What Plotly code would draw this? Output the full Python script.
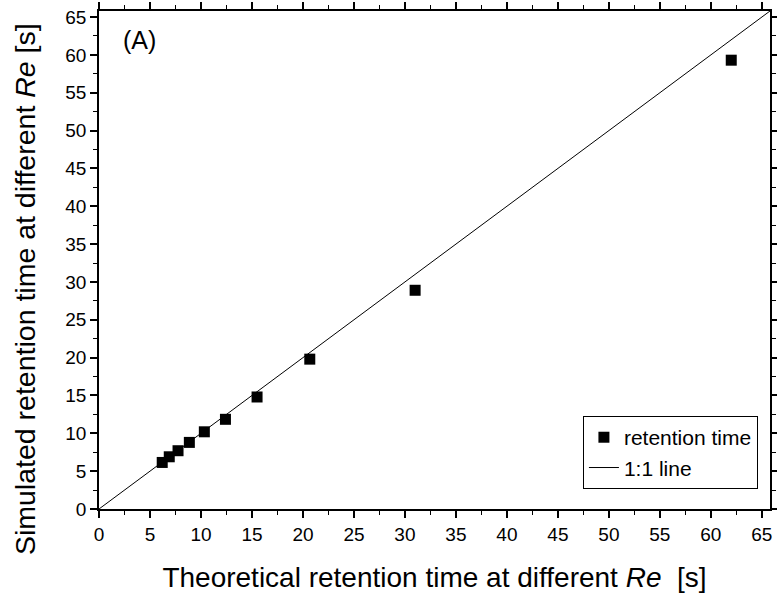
import plotly.graph_objects as go

theoretical = [62.0, 31.0, 20.67, 15.5, 12.4, 10.33, 8.86, 7.75, 6.89, 6.2]
simulated = [59.3, 28.9, 19.8, 14.8, 11.85, 10.2, 8.8, 7.7, 6.9, 6.15]
line_vals = [0, 65.8]

FONT = "Liberation Sans, Arial, sans-serif"

fig = go.Figure()
fig.add_trace(go.Scatter(x=theoretical, y=simulated, mode="markers", name="retention time",
                         marker=dict(symbol="square", size=11, color="black")))
fig.add_trace(go.Scatter(x=line_vals, y=line_vals, mode="lines", name="1:1 line",
                         line=dict(color="black", width=1)))

axis_common = dict(range=[0, 65.8], tickmode="linear", tick0=0, dtick=5,
                   ticks="outside", ticklen=7, tickwidth=1.5, tickcolor="black",
                   showline=True, linewidth=1.5, linecolor="black", mirror="ticks",
                   showgrid=False, zeroline=False, automargin=False,
                   tickfont=dict(family=FONT, size=19, color="black"),
                   minor=dict(ticks="outside", ticklen=4, tickwidth=1.2, tickcolor="black", dtick=2.5, tick0=0, showgrid=False))

fig.update_xaxes(**axis_common,
                 title=dict(text="Theoretical retention time at different <i>Re</i>  [s]",
                            font=dict(family=FONT, size=28, color="black"), standoff=24))
fig.update_yaxes(**axis_common)

fig.add_annotation(xref="paper", yref="paper", x=-0.11, y=0.442, xanchor="center", yanchor="middle",
                   text="Simulated retention time at different <i>Re</i> [s]", textangle=-90,
                   showarrow=False, font=dict(family=FONT, size=28.5, color="black"))

fig.add_annotation(x=4.0, y=62.0, text="(A)", showarrow=False,
                   font=dict(family=FONT, size=25, color="black"))

fig.update_layout(width=777, height=597, plot_bgcolor="white", paper_bgcolor="white",
                  margin=dict(l=99, r=7, t=11, b=88),
                  legend=dict(x=0.982, y=0.04, xanchor="right", yanchor="bottom",
                              bordercolor="black", borderwidth=1, bgcolor="white",
                              font=dict(family=FONT, size=21, color="black"),
                              tracegroupgap=0, itemwidth=30))

fig.write_html("out.html")
